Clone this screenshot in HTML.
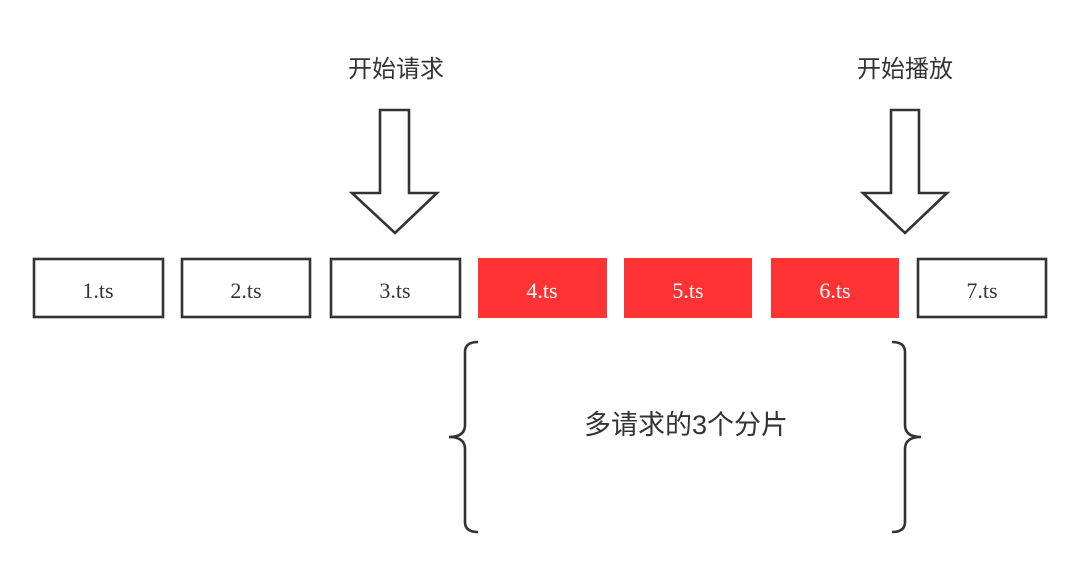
<!DOCTYPE html>
<html><head><meta charset="utf-8"><style>
body{margin:0;background:#fff;}
svg{display:block}
</style></head><body>
<svg width="1080" height="567" viewBox="0 0 1080 567" xmlns="http://www.w3.org/2000/svg">
<g font-family="Liberation Sans, Noto Sans CJK SC, sans-serif" fill="#333" font-size="24" text-anchor="middle">
<text x="396" y="77">开始请求</text>
<text x="905" y="77">开始播放</text>
<text x="686" y="434" font-size="27">多请求的3个分片</text>
</g>
<g fill="#fff" stroke="#333" stroke-width="2.6" stroke-linejoin="miter">
<polygon points="380,110 409,110 409,193 437,193 395,233 352,193 380,193"/>
<polygon points="891,110 919,110 919,193 947,193 905,233 863,193 891,193"/>
<rect x="34" y="259" width="129" height="58"/>
<rect x="182" y="259" width="128" height="58"/>
<rect x="331" y="259" width="129" height="58"/>
<rect x="918" y="259" width="128" height="58"/>
</g>
<g fill="#ff3333">
<rect x="478" y="258" width="129" height="60"/>
<rect x="624" y="258" width="128" height="60"/>
<rect x="771" y="258" width="128" height="60"/>
</g>
<g font-family="Liberation Serif, serif" font-size="22" text-anchor="middle">
<text x="98" y="298" fill="#333">1.ts</text>
<text x="246" y="298" fill="#333">2.ts</text>
<text x="395" y="298" fill="#333">3.ts</text>
<text x="542" y="298" fill="#fff">4.ts</text>
<text x="688" y="298" fill="#fff">5.ts</text>
<text x="835" y="298" fill="#fff">6.ts</text>
<text x="982" y="298" fill="#333">7.ts</text>
</g>
<g fill="none" stroke="#333" stroke-width="2.6">
<path d="M478,342 Q465,342 465,352 L465,425 Q465,437 449,437 Q465,437 465,449 L465,522 Q465,532 478,532"/>
<path d="M892,342 Q905,342 905,352 L905,425 Q905,437 921,437 Q905,437 905,449 L905,522 Q905,532 892,532"/>
</g>
</svg>
</body></html>
